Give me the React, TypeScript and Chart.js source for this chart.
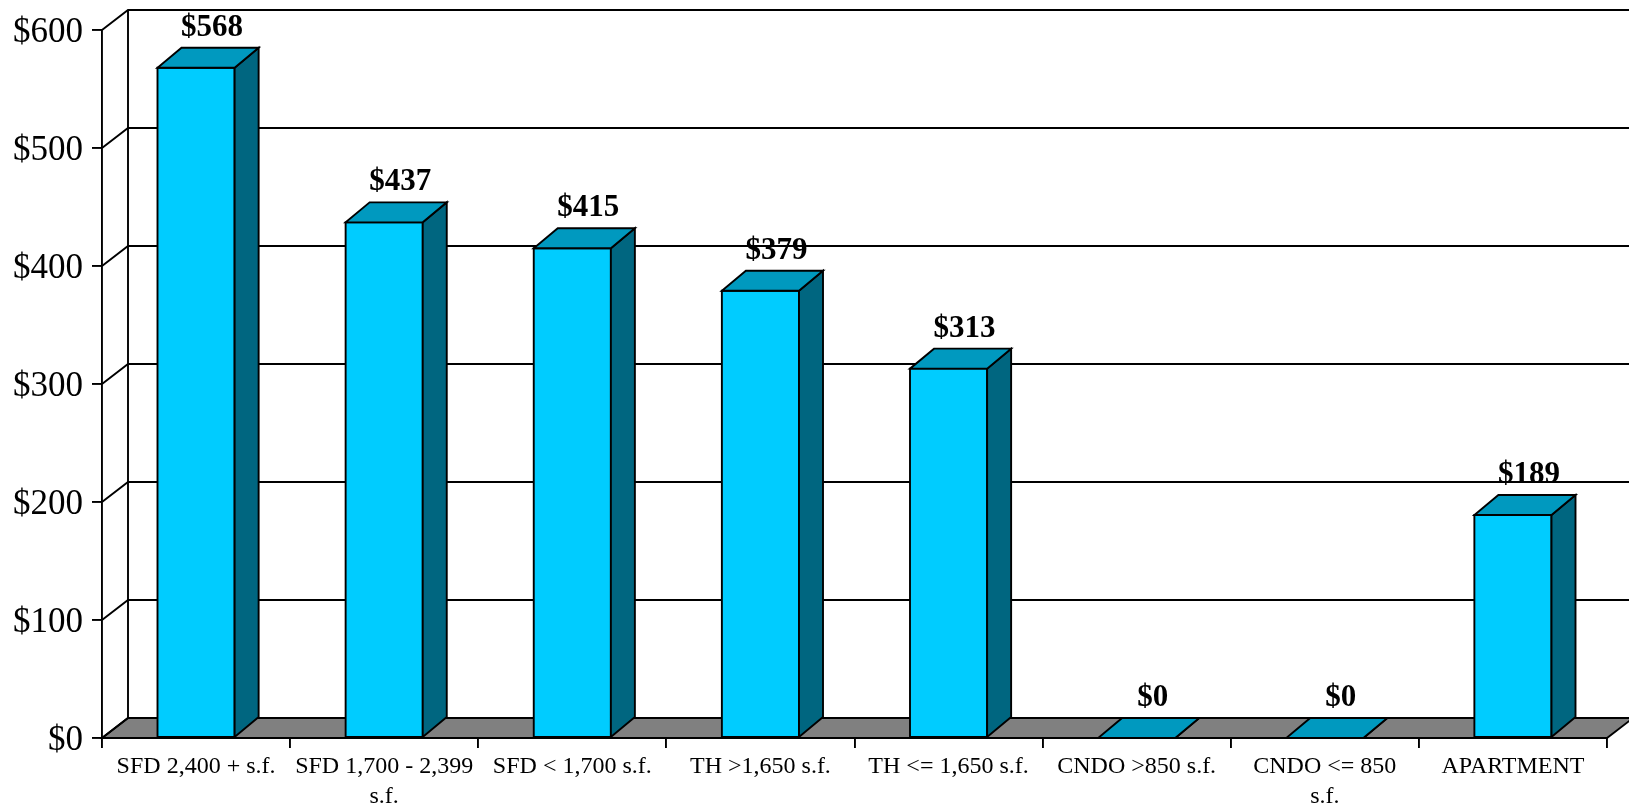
import React, { useEffect, useRef } from "react";
import { Chart, registerables } from "chart.js";

Chart.register(...registerables);

const categories: (string | string[])[] = [
  "SFD 2,400 + s.f.",
  ["SFD 1,700 - 2,399", "s.f."],
  "SFD < 1,700 s.f.",
  "TH >1,650 s.f.",
  "TH <= 1,650 s.f.",
  "CNDO >850 s.f.",
  ["CNDO <= 850", "s.f."],
  "APARTMENT",
];
const values = [568, 437, 415, 379, 313, 0, 0, 189];
const yMin = 0;
const yMax = 600;
const yStep = 100;

const WALL_DX = 26;
const WALL_DY = -20;
const BAR_DX = 24;
const BAR_DY = -20;
const FRONT = "#00CCFF";
const TOP = "#0099BF";
const SIDE = "#006680";
const LINE_W = 1.9;

const threeD = {
  id: "threeD",
  beforeDatasetsDraw(chart: any) {
    const { ctx, chartArea: a, scales } = chart;
    const y = scales.y;
    ctx.save();
    ctx.lineWidth = LINE_W;
    ctx.strokeStyle = "#000";
    ctx.lineJoin = "miter";
    // floor
    ctx.beginPath();
    ctx.moveTo(a.left, a.bottom);
    ctx.lineTo(a.right, a.bottom);
    ctx.lineTo(a.right + WALL_DX, a.bottom + WALL_DY);
    ctx.lineTo(a.left + WALL_DX, a.bottom + WALL_DY);
    ctx.closePath();
    ctx.fillStyle = "#808080";
    ctx.fill();
    ctx.stroke();
    // gridlines on side + back walls
    y.ticks.forEach((t: any) => {
      const py = y.getPixelForValue(t.value);
      ctx.beginPath();
      ctx.moveTo(a.left, py);
      ctx.lineTo(a.left + WALL_DX, py + WALL_DY);
      ctx.lineTo(chart.width + 20, py + WALL_DY);
      ctx.stroke();
    });
    // back wall left edge
    ctx.beginPath();
    ctx.moveTo(a.left + WALL_DX, y.getPixelForValue(yMax) + WALL_DY);
    ctx.lineTo(a.left + WALL_DX, y.getPixelForValue(yMin) + WALL_DY);
    ctx.stroke();
    ctx.restore();
  },
  afterDatasetsDraw(chart: any) {
    const { ctx } = chart;
    const meta = chart.getDatasetMeta(0);
    ctx.save();
    ctx.lineWidth = LINE_W;
    ctx.strokeStyle = "#000";
    ctx.lineJoin = "miter";
    meta.data.forEach((bar: any, i: number) => {
      const { x, y: top, base, width } = bar.getProps(["x", "y", "base", "width"], true);
      const l = x - width / 2;
      const r = x + width / 2;
      // front face outline
      ctx.beginPath();
      ctx.rect(l, top, width, base - top);
      ctx.stroke();
      // side face
      ctx.beginPath();
      ctx.moveTo(r, top);
      ctx.lineTo(r + BAR_DX, top + BAR_DY);
      ctx.lineTo(r + BAR_DX, base + BAR_DY);
      ctx.lineTo(r, base);
      ctx.closePath();
      ctx.fillStyle = SIDE;
      ctx.fill();
      ctx.stroke();
      // top face
      ctx.beginPath();
      ctx.moveTo(l, top);
      ctx.lineTo(r, top);
      ctx.lineTo(r + BAR_DX, top + BAR_DY);
      ctx.lineTo(l + BAR_DX, top + BAR_DY);
      ctx.closePath();
      ctx.fillStyle = TOP;
      ctx.fill();
      ctx.stroke();
      // data label
      ctx.fillStyle = "#000";
      ctx.font = 'bold 31px "Liberation Serif"';
      ctx.textAlign = "center";
      ctx.textBaseline = "alphabetic";
      ctx.fillText("$" + values[i], x + BAR_DX / 2 + 4, top + BAR_DY - 12);
    });
    ctx.restore();
  },
};

export default function App() {
  const ref = useRef<HTMLCanvasElement | null>(null);
  useEffect(() => {
    if (!ref.current) return;
    const chart = new Chart(ref.current, {
      type: "bar",
      data: {
        labels: categories as any,
        datasets: [
          {
            data: values,
            backgroundColor: FRONT,
            borderWidth: 0,
            barPercentage: 1,
            categoryPercentage: 0.41,
          },
        ],
      },
      options: {
        animation: false,
        responsive: false,
        devicePixelRatio: 1,
        events: [],
        layout: { padding: { left: 0, right: 22, top: 30, bottom: 0 } },
        plugins: { legend: { display: false }, tooltip: { enabled: false } },
        scales: {
          x: {
            type: "category",
            offset: true,
            grid: {
              display: true,
              offset: true,
              drawOnChartArea: false,
              drawTicks: true,
              tickLength: 10,
              color: "#000",
              lineWidth: LINE_W,
            },
            border: { display: true, color: "#000", width: LINE_W },
            ticks: {
              autoSkip: false,
              maxRotation: 0,
              minRotation: 0,
              padding: 4,
              color: "#000",
              font: { family: '"Liberation Serif"', size: 24, lineHeight: 1.25 },
            },
            afterFit: (s: any) => {
              s.height = 72;
            },
          },
          y: {
            min: yMin,
            max: yMax,
            grid: {
              display: true,
              drawOnChartArea: false,
              drawTicks: true,
              tickLength: 10,
              color: "#000",
              lineWidth: LINE_W,
            },
            border: { display: true, color: "#000", width: LINE_W },
            ticks: {
              stepSize: yStep,
              padding: 9,
              labelOffset: 3,
              color: "#000",
              font: { family: '"Liberation Serif"', size: 35 },
              callback: (v: any) => "$" + v,
            },
            afterFit: (s: any) => {
              s.width = 102;
            },
          },
        },
      },
      plugins: [threeD],
    });
    return () => chart.destroy();
  }, []);
  return (
    <div style={{ position: "absolute", left: 0, top: 0, width: 1629, height: 810, background: "#fff" }}>
      <canvas ref={ref} width={1629} height={810} style={{ display: "block" }} />
    </div>
  );
}
